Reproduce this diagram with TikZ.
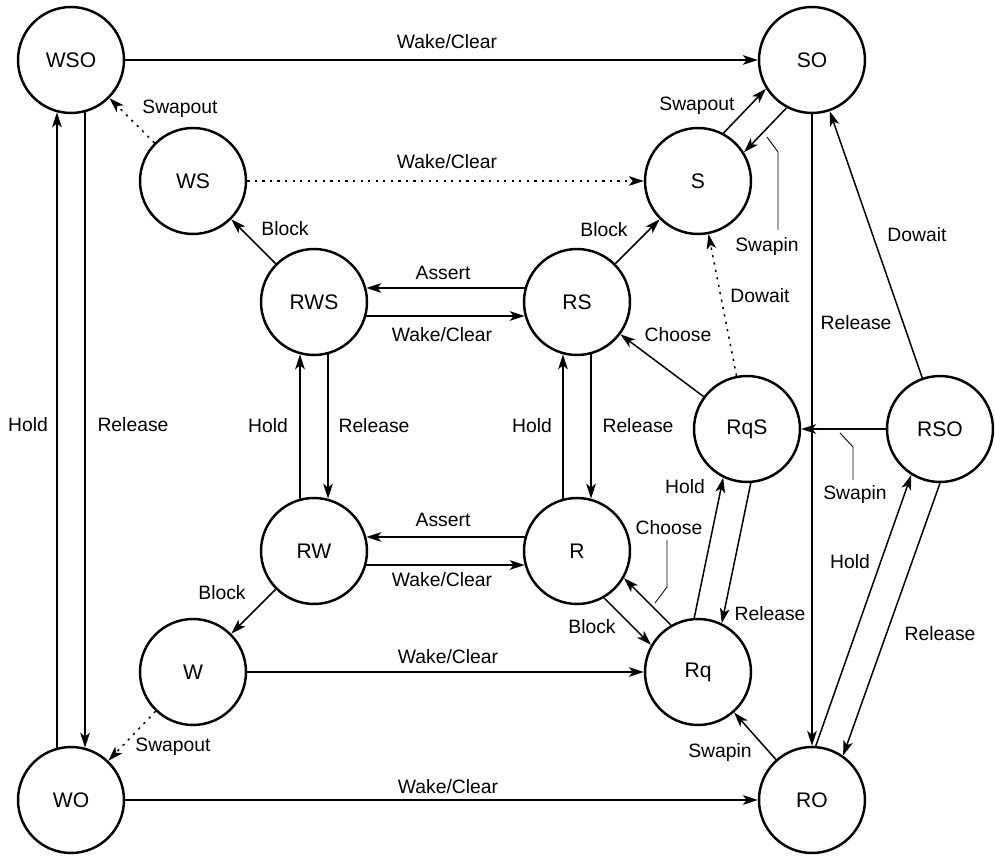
\documentclass[tikz,border=0pt]{standalone}
\usepackage{fontspec}
\setmainfont{Liberation Sans}
\usetikzlibrary{arrows.meta}
\begin{document}
\begin{tikzpicture}[x=0.02cm,y=-0.02cm,
  state/.style={circle,draw,line width=1.4pt,minimum size=2.12cm,inner sep=0pt,
    font=\fontsize{12}{14}\selectfont},
  tr/.style={line width=0.85pt,-{Stealth[length=8.5pt,width=5.5pt,inset=2.2pt]}},
  swp/.style={tr,dash pattern=on 1.3pt off 3pt},
  lbl/.style={inner sep=0pt,font=\fontsize{11}{13}\selectfont},
  lead/.style={line width=0.5pt}]
\fill[white] (0,0) rectangle (995,857);
\useasboundingbox (0,0) rectangle (995,857);

% states
\node[state] (WSO) at (71,60)   {WSO};
\node[state] (SO)  at (812,60)  {SO};
\node[state] (WS)  at (193,181) {WS};
\node[state] (S)   at (698,181) {S};
\node[state] (RWS) at (314,302) {RWS};
\node[state] (RS)  at (577,302) {RS};
\node[state] (RqS) at (747,429) {RqS};
\node[state] (RSO) at (940,429) {RSO};
\node[state] (RW)  at (314,551) {RW};
\node[state] (R)   at (577,551) {R};
\node[state] (W)   at (193,672) {W};
\node[state] (Rq)  at (698,672) {Rq};
\node[state] (WO)  at (71,800)  {WO};
\node[state] (RO)  at (812,800) {RO};

% transitions
\draw[tr]  (WSO) -- (SO);
\draw[swp] (WS) -- (S);
\draw[swp] (WS) -- (WSO);
\draw[tr]  (RWS) -- (WS);
\draw[tr]  (RS) -- (S);
\draw[tr]  (RS.165) -- (RWS.15);
\draw[tr]  (RWS.-15) -- (RS.195);
\draw[tr]  (RW.105) -- (RWS.255);
\draw[tr]  (RWS.285) -- (RW.75);
\draw[tr]  (R.105) -- (RS.255);
\draw[tr]  (RS.285) -- (R.75);
\draw[tr]  (R.165) -- (RW.15);
\draw[tr]  (RW.-15) -- (R.195);
\draw[tr]  (RW) -- (W);
\draw[swp] (W) -- (WO);
\draw[tr]  (W) -- (Rq);
\draw[tr]  (WO) -- (RO);
\draw[tr]  (WO.105) -- (WSO.255);
\draw[tr]  (WSO.285) -- (WO.75);
\draw[tr]  (S.62) -- (SO.212);
\draw[tr]  (SO.242) -- (S.32);
\draw[tr]  (SO) -- (RO);
\draw[tr]  (RSO) -- (SO);
\draw[swp] (RqS) -- (S);
\draw[tr]  (RqS) -- (RS);
\draw[tr]  (RSO) -- (RqS);
\draw[tr]  (Rq.94) -- (RqS.244);
\draw[tr]  (RqS.274) -- (Rq.64);
\draw[tr]  (Rq.120) -- (R.-30);
\draw[tr]  (R.-60) -- (Rq.150);
\draw[tr]  (RO.86) -- (RSO.238);
\draw[tr]  (RSO.270) -- (RO.55);
\draw[tr]  (RO) -- (Rq);

% labels
\node[lbl] (l1)  at (447,42)  {Wake/Clear};
\node[lbl] (l2)  at (447,162) {Wake/Clear};
\node[lbl] (l3)  at (180,109) {Swapout};
\node[lbl] (l4)  at (285,229) {Block};
\node[lbl] (l5)  at (604,230) {Block};
\node[lbl] (l6)  at (697,106) {Swapout};
\node[lbl] (l7)  at (767,247) {Swapin};
\node[lbl] (l8)  at (917,235) {Dowait};
\node[lbl] (l9)  at (443,273) {Assert};
\node[lbl] (l10) at (442,335) {Wake/Clear};
\node[lbl] (l11) at (760,296) {Dowait};
\node[lbl] (l12) at (678,335) {Choose};
\node[lbl] (l13) at (856,323) {Release};
\node[lbl] (l14) at (28,425)  {Hold};
\node[lbl] (l15) at (133,425) {Release};
\node[lbl] (l16) at (268,426) {Hold};
\node[lbl] (l17) at (374,426) {Release};
\node[lbl] (l18) at (532,426) {Hold};
\node[lbl] (l19) at (638,426) {Release};
\node[lbl] (l20) at (855,495) {Swapin};
\node[lbl] (l21) at (443,520) {Assert};
\node[lbl] (l22) at (442,580) {Wake/Clear};
\node[lbl] (l23) at (222,593) {Block};
\node[lbl] (l24) at (173,747) {Swapout};
\node[lbl] (l25) at (448,657) {Wake/Clear};
\node[lbl] (l26) at (448,787) {Wake/Clear};
\node[lbl] (l27) at (669,528) {Choose};
\node[lbl] (l28) at (685,487) {Hold};
\node[lbl] (l29) at (770,614) {Release};
\node[lbl] (l30) at (592,627) {Block};
\node[lbl] (l31) at (850,562) {Hold};
\node[lbl] (l32) at (940,634) {Release};
\node[lbl] (l33) at (720,753) {Swapin};

% leader lines
\coordinate (a1) at (778,230); \coordinate (a2) at (778,152); \coordinate (a3) at (767,137);
\draw[lead] (a1) -- (a2) -- (a3);
\coordinate (b1) at (853,480); \coordinate (b2) at (853,447); \coordinate (b3) at (840,433);
\draw[lead] (b1) -- (b2) -- (b3);
\coordinate (c1) at (667,540); \coordinate (c2) at (667,587); \coordinate (c3) at (655,603);
\draw[lead] (c1) -- (c2) -- (c3);
\end{tikzpicture}
\end{document}
